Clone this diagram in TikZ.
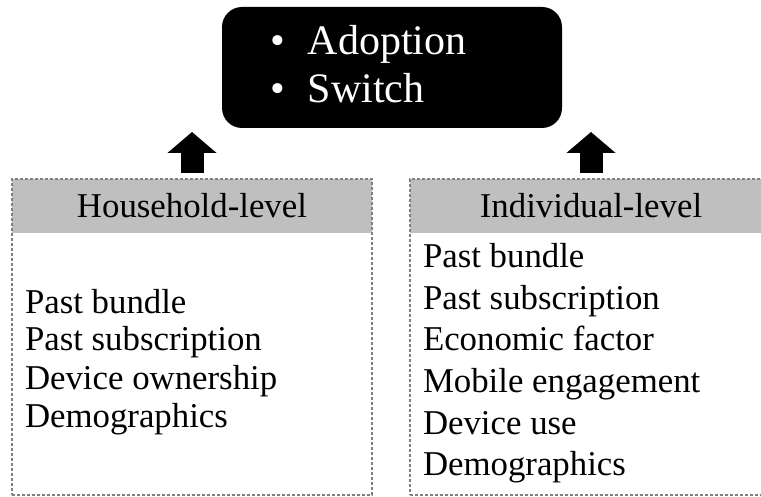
\documentclass[tikz,border=0pt]{standalone}
\usepackage{fontspec}
\setmainfont{Liberation Serif}
\usetikzlibrary{arrows.meta,calc}
\definecolor{dotgray}{RGB}{128,128,128}
\definecolor{headgray}{RGB}{191,191,191}
\begin{document}
\begin{tikzpicture}[x=1pt,y=-1pt,
  every node/.style={inner sep=0pt, outer sep=0pt},
  topbox/.style={fill=black, rounded corners=20pt, minimum width=340pt, minimum height=121pt},
  toptext/.style={text=white, font=\fontsize{42}{48}\selectfont, anchor=base west},
  factorbox/.style={draw=dotgray, line width=2.6pt, dash pattern=on 3pt off 2pt},
  headbox/.style={fill=headgray},
  headtext/.style={font=\fontsize{34.8}{40}\selectfont, anchor=base},
  itemtext/.style={font=\fontsize{34.8}{40}\selectfont, anchor=base west},
  blockarrow/.style={line width=23pt, -{Triangle[width=48pt,length=21pt]}}]
\useasboundingbox (0,0) rectangle (761,497);
\clip (0,0) rectangle (761,497);

% top box
\node[topbox] (top) at (392,67.5) {};
\node[toptext] (t1) at (270,55) {\makebox[38pt][l]{•}Adoption};
\node[toptext] (t2) at (270,103) {\makebox[38pt][l]{•}Switch};

% headers
\node[headbox, minimum width=360pt, minimum height=54pt] (hhh) at (192,206) {};
\node[headbox, minimum width=362pt, minimum height=54pt] (hih) at (591,206) {};

% boxes
\node[factorbox, minimum width=360pt, minimum height=316pt] (hh) at (192,337) {};
\node[factorbox, minimum width=362pt, minimum height=316pt] (hi) at (591,337) {};

\node[headtext] (hhl) at (192,218) {Household-level};
\node[headtext] (hil) at (591,218) {Individual-level};

% household list
\node[itemtext] (a1) at (25,313) {Past bundle};
\node[itemtext] (a2) at (25,351) {Past subscription};
\node[itemtext] (a3) at (25,389) {Device ownership};
\node[itemtext] (a4) at (25,427) {Demographics};

% individual list
\node[itemtext] (b1) at (423,268) {Past bundle};
\node[itemtext] (b2) at (423,309.5) {Past subscription};
\node[itemtext] (b3) at (423,351) {Economic factor};
\node[itemtext] (b4) at (423,392.5) {Mobile engagement};
\node[itemtext] (b5) at (423,434) {Device use};
\node[itemtext] (b6) at (423,475.5) {Demographics};

% arrows
\draw[blockarrow] ($(hh.north)+(0,-6)$) -- ($(top.south -| hh.north)+(0,4)$);
\draw[blockarrow] ($(hi.north)+(0,-6)$) -- ($(top.south -| hi.north)+(0,4)$);
\end{tikzpicture}
\end{document}
